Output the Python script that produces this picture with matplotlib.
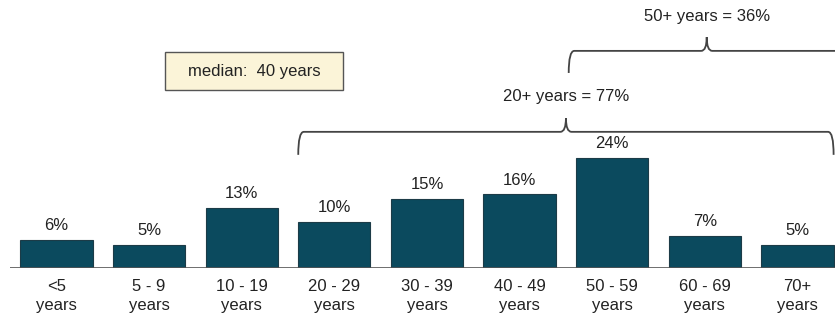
import matplotlib.pyplot as plt
from matplotlib.path import Path
from matplotlib.patches import PathPatch, Rectangle

plt.rcParams['font.family'] = ['Liberation Sans', 'DejaVu Sans']

ages = ['<5\nyears', '5 - 9\nyears', '10 - 19\nyears', '20 - 29\nyears', '30 - 39\nyears',
        '40 - 49\nyears', '50 - 59\nyears', '60 - 69\nyears', '70+\nyears']
share = [6, 5, 13, 10, 15, 16, 24, 7, 5]
groups = [('20+ years = 77%', 3, 8), ('50+ years = 36%', 6, 8)]
median_text = 'median:  40 years'

W, H = 835, 322
FS = 12
fig = plt.figure(figsize=(W / 100, H / 100), dpi=100)
# axes placed in pixel terms: baseline at y=268, spans x 10..835
ax = fig.add_axes([10 / W, (H - 268) / H, 825 / W, 268 / H])
ax.set_xlim(-0.502, 8.405)
ax.set_ylim(0, 268 / 4.6)

bw = 0.78
x = list(range(len(share)))
ax.bar(x, share, width=bw, color='#0b4a5e', edgecolor='#1c3b47', linewidth=0.8, zorder=2)
for xi, v in zip(x, share):
    ax.text(xi, v + 1.5, f'{v}%', ha='center', va='bottom', fontsize=FS, color='#222222')

ax.axhline(0, color='#555555', lw=1.2, zorder=3)
for s in ax.spines.values():
    s.set_visible(False)
ax.set_yticks([])
ax.set_xticks(x)
ax.set_xticklabels(ages, fontsize=FS, color='#222222', linespacing=1.3)
ax.tick_params(axis='x', length=0, pad=8)


def brace(x0, x1, y_tip, y_line, y_peak, label, y_text):
    rx = 0.06
    xm = (x0 + x1) / 2
    verts = [(x0, y_tip), (x0, y_line), (x0 + rx, y_line),
             (xm - rx, y_line), (xm, y_line), (xm, y_peak),
             (xm, y_line), (xm + rx, y_line),
             (x1 - rx, y_line), (x1, y_line), (x1, y_tip)]
    codes = [Path.MOVETO, Path.CURVE3, Path.CURVE3,
             Path.LINETO, Path.CURVE3, Path.CURVE3,
             Path.CURVE3, Path.CURVE3,
             Path.LINETO, Path.CURVE3, Path.CURVE3]
    ax.add_patch(PathPatch(Path(verts, codes), fill=False, ec='#444444', lw=1.3,
                           clip_on=False, zorder=3))
    ax.text(xm, y_text, label, ha='center', va='center', fontsize=FS, color='#222222')


lab20, a20, b20 = groups[0]
brace(a20 - bw / 2, b20 + bw / 2, 24.6, 29.6, 32.6, lab20, 37.2)
# upper brace runs a little past the figure edge on the right
lab50, a50, b50 = groups[1]
brace(a50 - bw / 2 - 0.08, b50 + bw / 2 + 0.12, 42.4, 47.2, 50.2, lab50, 54.6)

# median note box
ax.add_patch(Rectangle((1.171, 38.7), 1.922, 8.26, fc='#fbf4d8', ec='#555555', lw=1.0,
                       clip_on=False, zorder=3))
ax.text(2.132, 42.8, median_text, ha='center', va='center', fontsize=FS, color='#222222', zorder=4)

fig.savefig('out.png', dpi=100)
